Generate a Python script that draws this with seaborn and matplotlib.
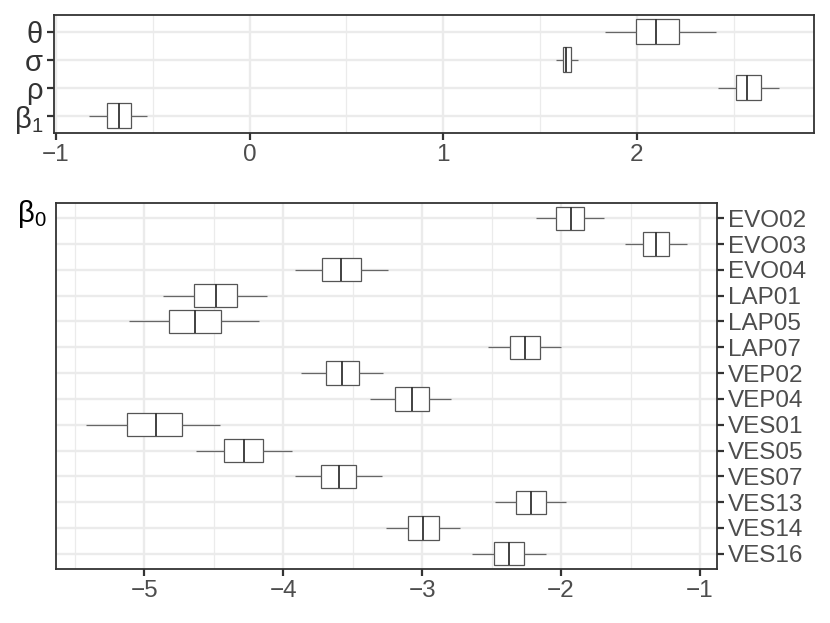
import numpy as np
import pandas as pd
import matplotlib
matplotlib.use("Agg")
import matplotlib.pyplot as plt
import seaborn as sns
from matplotlib.ticker import MultipleLocator, FixedLocator

# ---- top panel: global parameters (top -> bottom) ----
par_labels = ["θ", "σ", "ρ", "β$_\\mathregular{1}$"]
par_lo  = [1.835, 1.582, 2.422, -0.829]
par_q1  = [1.995, 1.617, 2.512, -0.734]
par_med = [2.100, 1.636, 2.572, -0.674]
par_q3  = [2.217, 1.661, 2.640, -0.611]
par_hi  = [2.408, 1.694, 2.735, -0.529]
par_ticks = [-1, 0, 1, 2]

# ---- bottom panel: beta_0 by site (top -> bottom) ----
sites = ["EVO02", "EVO03", "EVO04", "LAP01", "LAP05", "LAP07", "VEP02",
         "VEP04", "VES01", "VES05", "VES07", "VES13", "VES14", "VES16"]
b0_lo  = [-2.177, -1.537, -3.916, -4.863, -5.108, -2.525, -3.870, -3.374, -5.422, -4.630, -3.914, -2.475, -3.263, -2.640]
b0_q1  = [-2.036, -1.407, -3.719, -4.640, -4.825, -2.371, -3.695, -3.194, -5.122, -4.424, -3.731, -2.324, -3.100, -2.482]
b0_med = [-1.932, -1.317, -3.583, -4.486, -4.633, -2.261, -3.573, -3.075, -4.918, -4.281, -3.601, -2.216, -2.993, -2.376]
b0_q3  = [-1.835, -1.223, -3.443, -4.335, -4.446, -2.151, -3.453, -2.954, -4.727, -4.144, -3.475, -2.112, -2.880, -2.268]
b0_hi  = [-1.693, -1.096, -3.249, -4.119, -4.177, -1.997, -3.278, -2.789, -4.458, -3.940, -3.288, -1.964, -2.724, -2.112]
b0_ticks = [-5, -4, -3, -2, -1]


def long_table(names, lo, q1, med, q3, hi):
    rows = []
    for n, a, b, c, d, e in zip(names, lo, q1, med, q3, hi):
        for v in (a, b, c, d, e):
            rows.append({"name": n, "value": v})
    return pd.DataFrame(rows)


df_top = long_table(par_labels, par_lo, par_q1, par_med, par_q3, par_hi)
df_bot = long_table(sites, b0_lo, b0_q1, b0_med, b0_q3, b0_hi)

sns.set_theme(style="white")
plt.rcParams["font.family"] = ["Liberation Sans", "DejaVu Sans"]
plt.rcParams["mathtext.fontset"] = "custom"
plt.rcParams["mathtext.rm"] = "Liberation Sans"
plt.rcParams["mathtext.it"] = "Liberation Sans:italic"
plt.rcParams["mathtext.bf"] = "Liberation Sans:bold"
plt.rcParams["axes.unicode_minus"] = True

W, H = 830, 623
fig = plt.figure(figsize=(W / 100, H / 100), dpi=100)
ax1 = fig.add_axes([54 / W, 1 - 132.7 / H, (813.7 - 54) / W, (132.7 - 15) / H])
ax2 = fig.add_axes([55.7 / W, 1 - 569.3 / H, (716.7 - 55.7) / W, (569.3 - 202.7) / H])

box_kw = dict(orient="h", whis=(0, 100), width=0.9, color="white",
              linecolor="#555555", linewidth=0.9, fliersize=0,
              medianprops={"color": "#333333", "linewidth": 1.3},
              whiskerprops={"color": "#666666", "linewidth": 0.9},
              capprops={"linewidth": 0})

sns.boxplot(data=df_top, x="value", y="name", order=par_labels, ax=ax1, **box_kw)
sns.boxplot(data=df_bot, x="value", y="name", order=sites, ax=ax2, **box_kw)

grid_c = "#EBEBEB"
for ax, ticks, n in ((ax1, par_ticks, len(par_labels)), (ax2, b0_ticks, len(sites))):
    ax.set_axisbelow(True)
    ax.xaxis.set_major_locator(FixedLocator(ticks))
    ax.xaxis.set_minor_locator(MultipleLocator(0.5))
    ax.grid(which="major", axis="both", color=grid_c, lw=1.7)
    ax.grid(which="minor", axis="x", color=grid_c, lw=0.9)
    ax.set_ylim(n - 1 + 0.6, -0.6)
    ax.set_xlabel("")
    ax.set_ylabel("")
    for s in ax.spines.values():
        s.set_visible(True)
        s.set_color("#333333")
        s.set_linewidth(1.3)
    ax.tick_params(which="major", length=5, width=1.6, color="#333333",
                   labelcolor="#4D4D4D", labelsize=17.5, pad=3)
    ax.tick_params(which="minor", length=0)
    ax.tick_params(axis="x", which="both", bottom=True)
    ax.tick_params(axis="y", which="major", left=True)

ax1.tick_params(axis="y", labelsize=21, labelcolor="#333333")
ax1.set_xlim(-1.01, 2.914)
ax2.set_xlim(-5.637, -0.88)
ax2.yaxis.tick_right()
ax2.tick_params(axis="y", which="major", right=True, left=False)

fig.text(17 / W, 1 - 214 / H, "β$_\\mathregular{0}$", fontsize=21,
         color="black", ha="left", va="center")

fig.savefig("out.png", dpi=100)
